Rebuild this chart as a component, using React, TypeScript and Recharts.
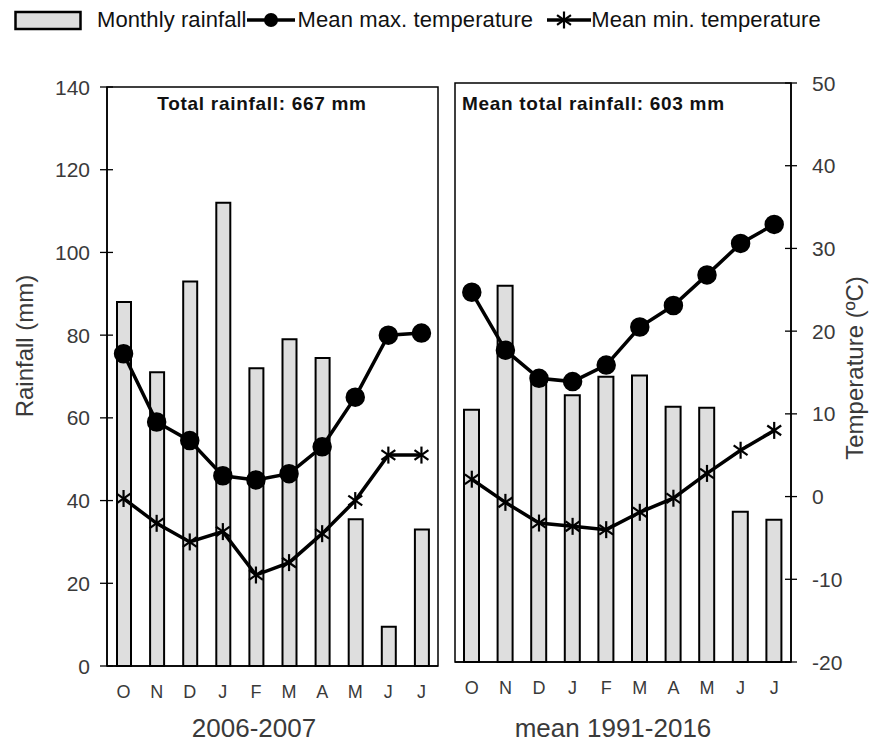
import React from "react"
import { Bar, ComposedChart, Line, ReferenceArea, XAxis, YAxis } from "recharts"

const months = ["O", "N", "D", "J", "F", "M", "A", "M", "J", "J"]

// 2006-2007 season
const rain0607 = [88, 71, 93, 112, 72, 79, 74.5, 35.5, 9.5, 33]
const tmax0607 = [17.75, 9.5, 7.25, 3, 2.5, 3.25, 6.5, 12.5, 20, 20.25]
const tmin0607 = [0.25, -2.75, -5, -3.75, -9, -7.5, -4, 0, 5.5, 5.5]

// long-term mean 1991-2016
const rainMean = [61, 91, 68.5, 64.5, 69, 69.3, 61.7, 61.5, 36.3, 34.4]
const tmaxMean = [24.7, 17.7, 14.3, 13.9, 15.9, 20.5, 23.1, 26.8, 30.6, 32.9]
const tminMean = [2.1, -0.7, -3.2, -3.6, -4.0, -1.9, -0.2, 2.8, 5.6, 8.0]

const rainTicks = [0, 20, 40, 60, 80, 100, 120, 140]
const tempTicks = [-20, -10, 0, 10, 20, 30, 40, 50]

const FONT = '"Liberation Sans", Arial, sans-serif'
const GREY = "#3a3a3a"

const toRows = (rain: number[], tmax: number[], tmin: number[]) =>
  months.map((m, i) => ({ month: m, rain: rain[i], tmax: tmax[i], tmin: tmin[i] }))

const data0607 = toRows(rain0607, tmax0607, tmin0607)
const dataMean = toRows(rainMean, tmaxMean, tminMean)

function StarDot(props: any) {
  const { cx, cy } = props
  if (cx == null || cy == null) return null
  const r = 8.5
  const angles = [90, 35, 145]
  return (
    <g>
      {angles.map((a) => {
        const dx = Math.cos((a * Math.PI) / 180) * r
        const dy = Math.sin((a * Math.PI) / 180) * r
        return (
          <line key={a} x1={cx - dx} y1={cy - dy} x2={cx + dx} y2={cy + dy} stroke="#000" strokeWidth={2.2} />
        )
      })}
    </g>
  )
}

function LeftTick(props: any) {
  const { x, y, payload } = props
  return (
    <g>
      <line x1={x - 7} x2={x + 6} y1={y} y2={y} stroke="#000" strokeWidth={1.3} />
      <text x={x - 17} y={y} dy="0.36em" textAnchor="end" fontSize={21} fill={GREY} fontFamily={FONT}>
        {payload.value}
      </text>
    </g>
  )
}

function RightTick(props: any) {
  const { x, y, payload } = props
  return (
    <g>
      <line x1={x - 6} x2={x + 6} y1={y} y2={y} stroke="#000" strokeWidth={1.3} />
      <text x={x + 21} y={y} dy="0.36em" textAnchor="start" fontSize={21} fill={GREY} fontFamily={FONT}>
        {payload.value}
      </text>
    </g>
  )
}

interface PanelProps {
  data: any[]
  width: number
  height: number
  margin: { top: number; right: number; bottom: number; left: number }
  barSize: number
  xHeight: number
  leftAxisWidth: number
  rightAxisWidth: number
  showRainTicks: boolean
  showTempTicks: boolean
}

function Panel({ data, width, height, margin, barSize, xHeight, leftAxisWidth, rightAxisWidth, showRainTicks, showTempTicks }: PanelProps) {
  return (
    <ComposedChart width={width} height={height} data={data} margin={margin}>
      <XAxis
        dataKey="month"
        interval={0}
        height={xHeight}
        tickSize={0}
        tickLine={false}
        tickMargin={19}
        axisLine={{ stroke: "#000", strokeWidth: 1.5 }}
        tick={{ fontSize: 18, fill: GREY, fontFamily: FONT }}
      />
      <YAxis
        yAxisId="rain"
        domain={[0, 140]}
        ticks={rainTicks}
        width={leftAxisWidth}
        tickSize={0}
        tickMargin={0}
        tickLine={false}
        axisLine={{ stroke: "#000", strokeWidth: 1.5 }}
        tick={showRainTicks ? <LeftTick /> : false}
      />
      <YAxis
        yAxisId="temp"
        orientation="right"
        domain={[-20, 50]}
        ticks={tempTicks}
        width={rightAxisWidth}
        tickSize={0}
        tickMargin={0}
        tickLine={false}
        axisLine={{ stroke: "#000", strokeWidth: 1.5 }}
        tick={showTempTicks ? <RightTick /> : false}
      />
      {/* plot frame */}
      <ReferenceArea yAxisId="rain" y1={0} y2={140} fill="none" stroke="#000" strokeWidth={1.5} />
      <Bar yAxisId="rain" dataKey="rain" barSize={barSize} fill="#dedede" stroke="#000" strokeWidth={2} isAnimationActive={false} />
      <Line yAxisId="temp" dataKey="tmax" stroke="#000" strokeWidth={3.5} dot={{ r: 8, fill: "#000", stroke: "#000" }} isAnimationActive={false} />
      <Line yAxisId="temp" dataKey="tmin" stroke="#000" strokeWidth={3.5} dot={<StarDot />} isAnimationActive={false} />
    </ComposedChart>
  )
}

const abs = (left: number, top: number): React.CSSProperties => ({ position: "absolute", left, top })

const noteStyle: React.CSSProperties = {
  fontSize: 19,
  fontWeight: "bold",
  letterSpacing: 0.7,
  whiteSpace: "nowrap",
  color: "#111",
}

export default function App() {
  return (
    <div style={{ position: "absolute", left: 0, top: 0, width: 869, height: 741, background: "#fff", fontFamily: FONT }}>
      {/* legend */}
      <div style={{ ...abs(14, 7), display: "flex", alignItems: "center", fontSize: 22, letterSpacing: 0.1, color: "#111", whiteSpace: "nowrap" }}>
        <svg width={68} height={24}>
          <rect x={1.5} y={4} width={65} height={17} fill="#dedede" stroke="#000" strokeWidth={2.5} />
        </svg>
        <span style={{ marginLeft: 15 }}>Monthly rainfall</span>
        <svg width={48} height={24}>
          <line x1={0} x2={48} y1={12} y2={12} stroke="#000" strokeWidth={3.5} />
          <circle cx={24} cy={12} r={7} fill="#000" />
        </svg>
        <span style={{ marginLeft: 3 }}>Mean max. temperature</span>
        <svg width={48} height={24} style={{ marginLeft: 10 }}>
          <line x1={4} x2={48} y1={12} y2={12} stroke="#000" strokeWidth={3.5} />
          <StarDot cx={21} cy={12} />
        </svg>
        <span>Mean min. temperature</span>
      </div>

      <div style={abs(0, 0)}>
        <Panel
          data={data0607}
          width={460}
          height={741}
          margin={{ top: 87, right: 22, bottom: 0, left: 0 }}
          barSize={14}
          xHeight={75}
          leftAxisWidth={107}
          rightAxisWidth={0}
          showRainTicks={true}
          showTempTicks={false}
        />
      </div>
      <div style={abs(440, 0)}>
        <Panel
          data={dataMean}
          width={429}
          height={741}
          margin={{ top: 83, right: 0, bottom: 0, left: 15 }}
          barSize={15}
          xHeight={79}
          leftAxisWidth={0}
          rightAxisWidth={78}
          showRainTicks={false}
          showTempTicks={true}
        />
      </div>

      {/* panel annotations */}
      <div style={{ ...abs(262, 93), transform: "translateX(-50%)", ...noteStyle }}>Total rainfall: 667 mm</div>
      <div style={{ ...abs(462, 93), ...noteStyle }}>Mean total rainfall: 603 mm</div>

      {/* axis titles */}
      <div style={{ ...abs(254, 728), transform: "translate(-50%, -50%)", fontSize: 26, color: GREY, whiteSpace: "nowrap" }}>
        2006-2007
      </div>
      <div style={{ ...abs(613, 728), transform: "translate(-50%, -50%)", fontSize: 26, color: GREY, whiteSpace: "nowrap" }}>
        mean 1991-2016
      </div>
      <div style={{ ...abs(25, 346), transform: "translate(-50%, -50%) rotate(-90deg)", fontSize: 24, color: GREY, whiteSpace: "nowrap" }}>
        Rainfall (mm)
      </div>
      <div style={{ ...abs(855, 368), transform: "translate(-50%, -50%) rotate(-90deg)", fontSize: 24, color: GREY, whiteSpace: "nowrap" }}>
        Temperature (ºC)
      </div>
    </div>
  )
}
